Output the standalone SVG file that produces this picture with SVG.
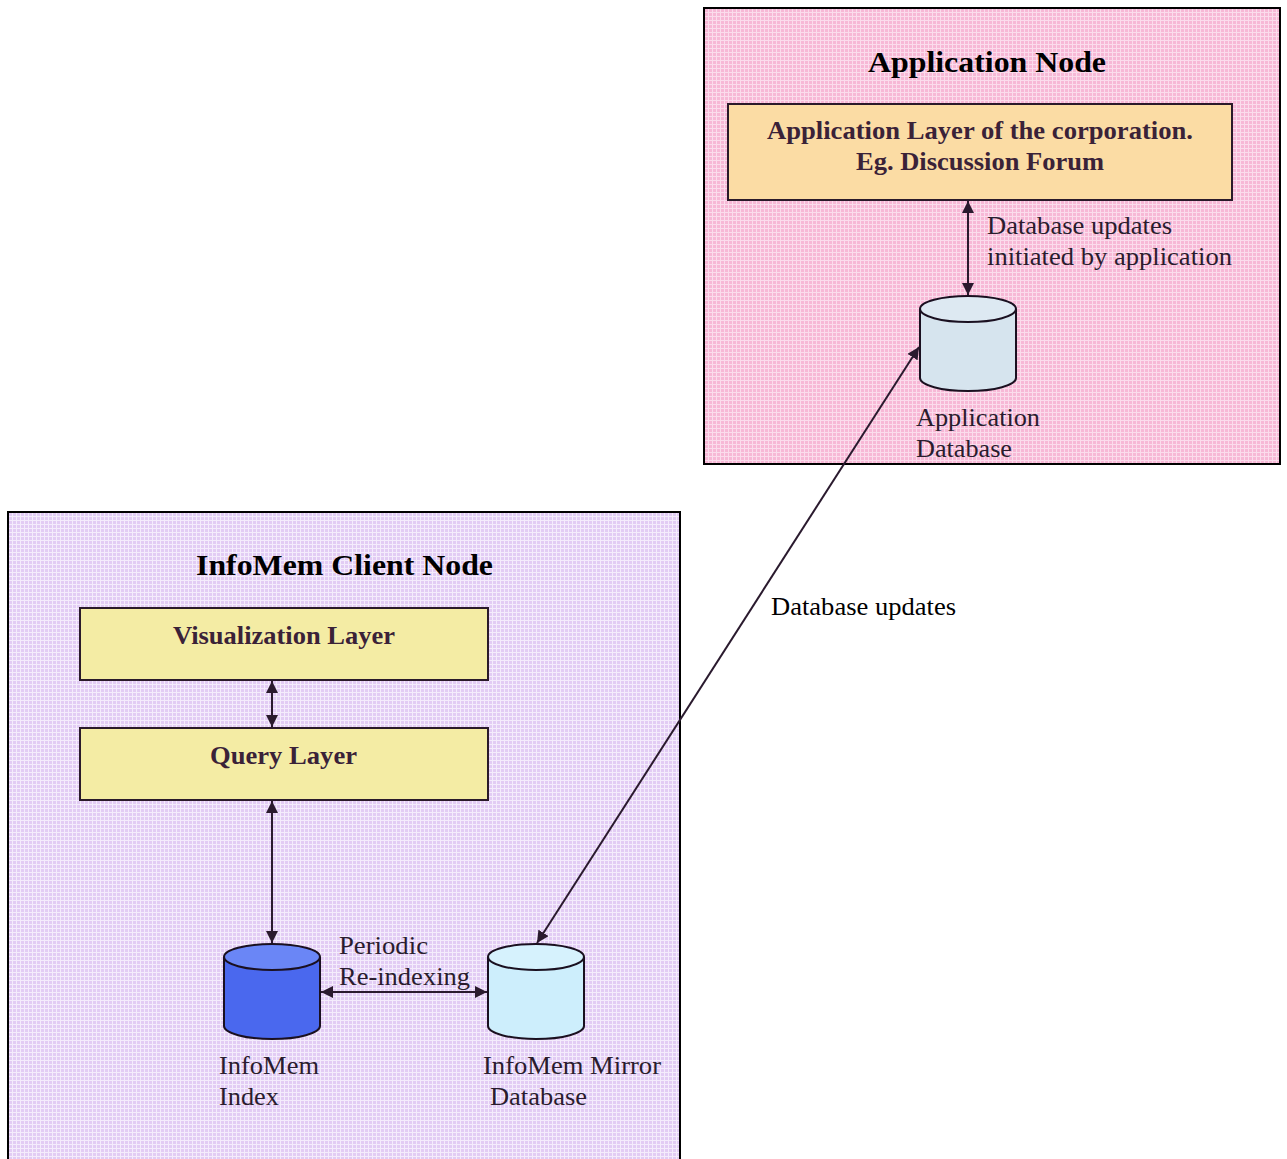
<svg xmlns="http://www.w3.org/2000/svg" width="1287" height="1159" viewBox="0 0 1287 1159">
<style>
.title{font-family:"Liberation Serif","Times New Roman",serif;font-weight:bold;font-size:30px;fill:#000}
.layer{font-family:"Liberation Serif","Times New Roman",serif;font-weight:bold;font-size:25px;fill:#3a2238}
.lbl{font-family:"Liberation Serif","Times New Roman",serif;font-size:24.5px;fill:#2a1c2e}
.out{font-family:"Liberation Serif","Times New Roman",serif;font-size:24.5px;fill:#000}
.box{stroke:#2a1a2a;stroke-width:2}
.cyl{stroke:#1a1020;stroke-width:2}
.conn{stroke:#2a1a2e;stroke-width:2;fill:none}
</style>
<defs>
<pattern id="pinkP" width="4" height="4" patternUnits="userSpaceOnUse">
<rect width="4" height="4" fill="#f7b8d6"/>
<path d="M0 0.5H4M0.5 0V4" stroke="#fbdcec" stroke-width="1"/>
</pattern>
<pattern id="lavP" width="4" height="4" patternUnits="userSpaceOnUse">
<rect width="4" height="4" fill="#e2ccf4"/>
<path d="M0 0.5H4M0.5 0V4" stroke="#f4ecfc" stroke-width="1"/>
</pattern>
<marker id="ah" viewBox="0 0 12 12" refX="12" refY="6" markerWidth="6" markerHeight="6" orient="auto-start-reverse" markerUnits="strokeWidth">
<path d="M0 0L12 6L0 12z" fill="#2a1a2e"/>
</marker>
</defs>

<g id="application-node">
<rect x="704" y="8" width="576" height="456" fill="url(#pinkP)" stroke="#000" stroke-width="2"/>
<text class="title" x="868" y="72" textLength="238" lengthAdjust="spacingAndGlyphs">Application Node</text>
</g>

<g id="application-layer">
<rect class="box" x="728" y="104" width="504" height="96" fill="#fbdca4"/>
<text class="layer" x="767" y="139" textLength="426" lengthAdjust="spacingAndGlyphs">Application Layer of the corporation.</text>
<text class="layer" x="856" y="170" textLength="248" lengthAdjust="spacingAndGlyphs">Eg. Discussion Forum</text>
</g>

<g id="application-database">
<path class="cyl" d="M920 309V378A48 13 0 0 0 1016 378V309" fill="#d6e4ee"/>
<ellipse class="cyl" cx="968" cy="309" rx="48" ry="13" fill="#dde9f2"/>
<text class="lbl" x="916" y="426" textLength="124" lengthAdjust="spacingAndGlyphs">Application</text>
<text class="lbl" x="916" y="457" textLength="96" lengthAdjust="spacingAndGlyphs">Database</text>
</g>

<g id="infomem-client-node">
<rect x="8" y="512" width="672" height="660" fill="url(#lavP)" stroke="#000" stroke-width="2"/>
<text class="title" x="196" y="575" textLength="297" lengthAdjust="spacingAndGlyphs">InfoMem Client Node</text>
</g>

<g id="visualization-layer">
<rect class="box" x="80" y="608" width="408" height="72" fill="#f4eca4"/>
<text class="layer" x="173" y="644" textLength="222" lengthAdjust="spacingAndGlyphs">Visualization Layer</text>
</g>

<g id="query-layer">
<rect class="box" x="80" y="728" width="408" height="72" fill="#f4eca4"/>
<text class="layer" x="210" y="764" textLength="147" lengthAdjust="spacingAndGlyphs">Query Layer</text>
</g>

<g id="infomem-index">
<path class="cyl" d="M224 957V1026A48 13 0 0 0 320 1026V957" fill="#4a68ee"/>
<ellipse class="cyl" cx="272" cy="957" rx="48" ry="13" fill="#6a86f6"/>
<text class="lbl" x="219" y="1074" textLength="100" lengthAdjust="spacingAndGlyphs">InfoMem</text>
<text class="lbl" x="219" y="1105" textLength="60" lengthAdjust="spacingAndGlyphs">Index</text>
</g>

<g id="infomem-mirror-database">
<path class="cyl" d="M488 957V1026A48 13 0 0 0 584 1026V957" fill="#cdeefc"/>
<ellipse class="cyl" cx="536" cy="957" rx="48" ry="13" fill="#d6f2fd"/>
<text class="lbl" x="483" y="1074" textLength="178" lengthAdjust="spacingAndGlyphs">InfoMem Mirror</text>
<text class="lbl" x="490" y="1105" textLength="97" lengthAdjust="spacingAndGlyphs">Database</text>
</g>

<g id="connectors">
<line class="conn" x1="968" y1="201" x2="968" y2="295" marker-start="url(#ah)" marker-end="url(#ah)"/>
<text class="lbl" x="987" y="234" textLength="185" lengthAdjust="spacingAndGlyphs">Database updates</text>
<text class="lbl" x="987" y="265" textLength="245" lengthAdjust="spacingAndGlyphs">initiated by application</text>
<line class="conn" x1="272" y1="681" x2="272" y2="727" marker-start="url(#ah)" marker-end="url(#ah)"/>
<line class="conn" x1="272" y1="801" x2="272" y2="943" marker-start="url(#ah)" marker-end="url(#ah)"/>
<line class="conn" x1="321" y1="992" x2="487" y2="992" marker-start="url(#ah)" marker-end="url(#ah)"/>
<text class="lbl" x="339" y="954" textLength="89" lengthAdjust="spacingAndGlyphs">Periodic</text>
<text class="lbl" x="339" y="985" textLength="131" lengthAdjust="spacingAndGlyphs">Re-indexing</text>
<line class="conn" x1="537" y1="943" x2="919" y2="347" marker-start="url(#ah)" marker-end="url(#ah)"/>
<text class="out" x="771" y="615" textLength="185" lengthAdjust="spacingAndGlyphs">Database updates</text>
</g>
</svg>
